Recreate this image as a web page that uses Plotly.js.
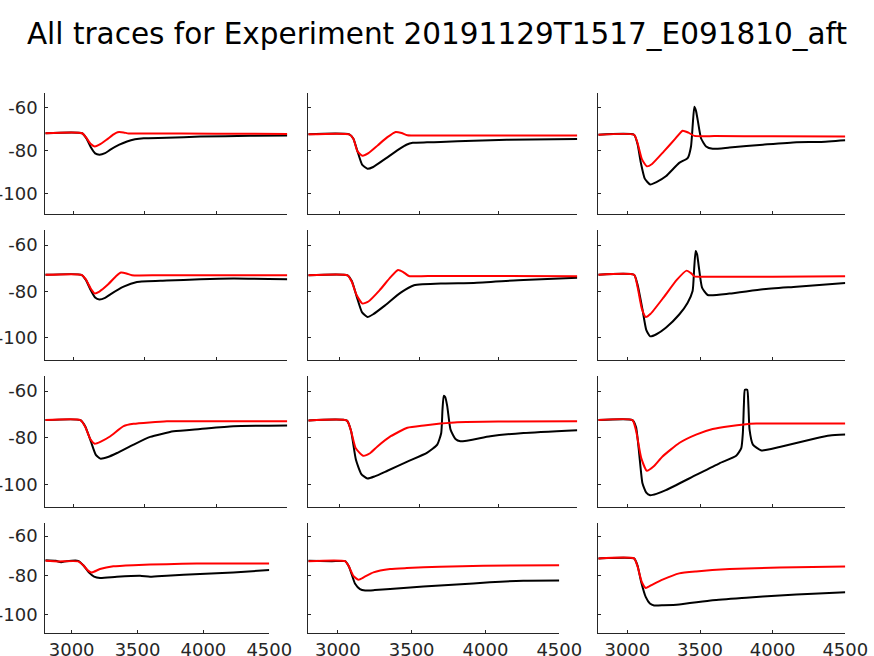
<!DOCTYPE html>
<html>
<head>
<meta charset="utf-8">
<script src="https://cdn.plot.ly/plotly-3.0.1.min.js"></script>
<style>html,body{margin:0;padding:0;background:#fff;}#chart{width:874px;height:656px;}</style>
</head>
<body>
<div id="chart"></div>
<script>
// ---- Tick labels ----
const xTickVals = [3000, 3500, 4000, 4500];
const xTickText = ['3000', '3500', '4000', '4500'];
const yTickVals = [-100, -80, -60];
const yTickText = ['-100', '-80', '-60'];

// ---- Row 1 ----
const p11_kx = [2800, 3059, 3090, 3120, 3150, 3180, 3220, 3257, 3320, 3374, 3430, 3491, 3654, 3888, 4238, 4500];
const p11_ky = [-72.0, -72.0, -74.5, -78.5, -81.3, -81.9, -81.2, -79.6, -77.3, -75.8, -74.8, -74.3, -74.1, -73.5, -73.2, -73.0];
const p11_rx = [2800, 3059, 3090, 3120, 3147, 3180, 3230, 3280, 3308, 3350, 3385, 3500, 4000, 4500];
const p11_ry = [-72.0, -72.0, -74.3, -77.0, -78.1, -77.3, -75.0, -72.5, -71.5, -71.6, -72.1, -72.1, -72.2, -72.3];

const p12_kx = [2800, 3059, 3085, 3111, 3140, 3174, 3210, 3279, 3384, 3420, 3460, 3550, 3636, 3845, 4055, 4500];
const p12_ky = [-72.4, -72.5, -74.5, -80.4, -86.5, -88.4, -87.6, -84.2, -78.9, -77.3, -76.4, -76.2, -76.0, -75.5, -75.0, -74.7];
const p12_rx = [2800, 3059, 3085, 3111, 3143, 3180, 3240, 3300, 3352, 3390, 3426, 3600, 4000, 4500];
const p12_ry = [-72.5, -72.5, -74.5, -80.4, -82.4, -81.2, -77.5, -73.8, -71.4, -71.9, -72.9, -73.0, -73.0, -73.0];

const p13_kx = [2800, 3046, 3070, 3093, 3120, 3157, 3200, 3265, 3357, 3415, 3438, 3450, 3461, 3472, 3484, 3507, 3542, 3587, 3703, 3933, 4164, 4325, 4500];
const p13_ky = [-72.7, -72.7, -77.0, -85.7, -93.0, -95.7, -94.6, -91.9, -85.7, -83.5, -78.1, -68.0, -59.7, -61.5, -65.8, -74.3, -78.1, -79.2, -78.6, -77.3, -76.1, -76.0, -75.2];
const p13_rx = [2800, 3046, 3070, 3100, 3134, 3170, 3250, 3330, 3380, 3420, 3461, 3600, 4000, 4500];
const p13_ry = [-72.7, -72.7, -76.5, -84.0, -87.3, -86.2, -80.5, -74.5, -70.8, -71.7, -73.2, -73.3, -73.4, -73.5];

// ---- Row 2 ----
const p21_kx = [2800, 3054, 3085, 3120, 3150, 3180, 3220, 3257, 3350, 3444, 3654, 3888, 4121, 4500];
const p21_ky = [-72.8, -72.8, -75.0, -79.5, -82.6, -83.4, -82.7, -81.2, -77.9, -75.9, -75.3, -74.7, -74.4, -74.7];
const p21_rx = [2800, 3054, 3085, 3120, 3147, 3180, 3240, 3300, 3332, 3370, 3409, 3600, 4000, 4500];
const p21_ry = [-72.8, -72.8, -74.8, -78.8, -80.8, -80.0, -77.0, -73.2, -71.8, -72.2, -73.0, -73.0, -73.0, -73.0];

const p22_kx = [2800, 3048, 3075, 3105, 3140, 3174, 3210, 3279, 3384, 3468, 3656, 3845, 4160, 4500];
const p22_ky = [-73.0, -73.0, -75.5, -82.0, -89.0, -91.0, -89.8, -86.3, -80.5, -77.3, -76.5, -76.3, -75.0, -74.1];
const p22_rx = [2800, 3048, 3075, 3105, 3143, 3180, 3250, 3320, 3367, 3400, 3436, 3600, 4000, 4500];
const p22_ry = [-73.0, -73.0, -75.8, -81.5, -85.2, -84.3, -79.5, -73.8, -70.7, -71.6, -73.3, -73.3, -73.3, -73.4];

const p23_kx = [2800, 3046, 3070, 3104, 3130, 3157, 3200, 3265, 3357, 3415, 3449, 3460, 3470, 3480, 3491, 3514, 3553, 3703, 3933, 4164, 4500];
const p23_ky = [-72.8, -72.8, -77.0, -87.7, -96.5, -99.3, -98.4, -95.6, -89.9, -84.8, -79.8, -70.0, -62.5, -64.0, -69.0, -78.3, -81.5, -80.9, -79.0, -77.9, -76.3];
const p23_rx = [2800, 3046, 3070, 3100, 3127, 3160, 3250, 3340, 3408, 3440, 3461, 3600, 4000, 4500];
const p23_ry = [-72.8, -72.8, -78.0, -87.5, -91.0, -89.6, -82.5, -75.0, -71.0, -72.2, -73.5, -73.6, -73.6, -73.4];

// ---- Row 3 ----
const p31_kx = [2800, 3047, 3080, 3120, 3155, 3187, 3240, 3304, 3420, 3537, 3701, 3888, 4121, 4500];
const p31_ky = [-72.4, -72.4, -75.0, -81.5, -87.3, -88.9, -88.2, -86.5, -82.9, -79.6, -77.2, -76.2, -75.0, -74.7];
const p31_rx = [2800, 3047, 3080, 3115, 3147, 3190, 3257, 3350, 3420, 3654, 4000, 4500];
const p31_ry = [-72.4, -72.4, -75.2, -80.4, -82.5, -81.6, -79.3, -75.0, -74.0, -72.9, -72.9, -72.9];

const p32_kx = [2800, 3044, 3070, 3101, 3135, 3174, 3220, 3300, 3426, 3552, 3615, 3640, 3648, 3656, 3665, 3678, 3699, 3730, 3761, 3950, 4160, 4500];
const p32_ky = [-72.6, -72.6, -77.0, -89.4, -95.5, -97.4, -96.5, -94.1, -90.2, -86.3, -82.9, -77.9, -68.0, -62.0, -62.5, -66.4, -76.5, -80.5, -81.5, -79.3, -77.9, -76.7];
const p32_rx = [2800, 3044, 3070, 3100, 3147, 3190, 3237, 3321, 3426, 3531, 3636, 3741, 4000, 4500];
const p32_ry = [-72.6, -72.6, -77.0, -84.5, -87.7, -86.6, -83.7, -79.3, -75.7, -74.7, -73.9, -73.3, -73.0, -72.9];

const p33_kx = [2800, 3035, 3060, 3081, 3104, 3130, 3157, 3200, 3265, 3473, 3634, 3749, 3784, 3795, 3802, 3809, 3825, 3833, 3841, 3864, 3922, 4048, 4278, 4394, 4500];
const p33_ky = [-72.4, -72.4, -75.5, -86.5, -99.5, -103.5, -104.6, -104.0, -102.4, -95.9, -90.9, -87.7, -84.4, -77.9, -66.0, -59.4, -59.4, -66.0, -76.5, -82.9, -85.4, -83.9, -80.5, -79.0, -78.6];
const p33_rx = [2800, 3035, 3060, 3095, 3134, 3180, 3242, 3357, 3473, 3587, 3703, 3887, 4200, 4500];
const p33_ry = [-72.4, -72.4, -77.0, -88.5, -94.1, -92.3, -88.0, -82.2, -78.6, -76.2, -75.0, -73.9, -73.9, -73.9];

// ---- Row 4 ----
const p41_kx = [2800, 2880, 2920, 2960, 3050, 3090, 3130, 3170, 3215, 3342, 3519, 3595, 3721, 3974, 4227, 4500];
const p41_ky = [-72.3, -72.6, -73.3, -72.8, -72.6, -75.0, -78.5, -80.6, -81.3, -80.7, -80.2, -80.7, -80.2, -79.3, -78.5, -77.3];
const p41_rx = [2800, 2900, 3050, 3090, 3125, 3152, 3215, 3316, 3468, 3721, 3949, 4500];
const p41_ry = [-72.6, -72.9, -72.9, -75.0, -77.6, -78.5, -76.8, -75.4, -74.8, -74.3, -74.0, -74.0];

const p42_kx = [2800, 2960, 3049, 3075, 3117, 3150, 3185, 3250, 3354, 3579, 3805, 4030, 4256, 4500];
const p42_ky = [-72.6, -72.8, -72.8, -75.5, -84.3, -87.0, -87.7, -87.5, -86.9, -85.7, -84.7, -83.5, -82.7, -82.6];
const p42_rx = [2800, 3049, 3075, 3105, 3139, 3180, 3241, 3354, 3467, 3692, 3985, 4500];
const p42_ry = [-72.8, -72.8, -75.5, -80.3, -82.2, -80.8, -78.5, -76.8, -76.3, -75.6, -75.1, -74.8];

const p43_kx = [2800, 2870, 3046, 3070, 3093, 3127, 3155, 3184, 3250, 3357, 3587, 3818, 4048, 4278, 4500];
const p43_ky = [-71.4, -71.2, -71.4, -75.0, -82.7, -91.1, -94.3, -95.3, -95.2, -94.8, -92.7, -91.4, -90.2, -89.4, -88.6];
const p43_rx = [2800, 3046, 3070, 3100, 3127, 3170, 3242, 3357, 3473, 3703, 4048, 4500];
const p43_ry = [-71.4, -71.4, -75.5, -83.5, -86.4, -84.8, -82.2, -79.0, -78.0, -76.8, -76.0, -75.5];

// ---- Assemble ----
const panelsK = [
  [p11_kx, p11_ky], [p12_kx, p12_ky], [p13_kx, p13_ky],
  [p21_kx, p21_ky], [p22_kx, p22_ky], [p23_kx, p23_ky],
  [p31_kx, p31_ky], [p32_kx, p32_ky], [p33_kx, p33_ky],
  [p41_kx, p41_ky], [p42_kx, p42_ky], [p43_kx, p43_ky]
];
const panelsR = [
  [p11_rx, p11_ry], [p12_rx, p12_ry], [p13_rx, p13_ry],
  [p21_rx, p21_ry], [p22_rx, p22_ry], [p23_rx, p23_ry],
  [p31_rx, p31_ry], [p32_rx, p32_ry], [p33_rx, p33_ry],
  [p41_rx, p41_ry], [p42_rx, p42_ry], [p43_rx, p43_ry]
];

const W = 874, H = 656;
const colPx = [[45.3, 287.3], [308.3, 577.3], [598.3, 845.3]];
const colPxLast = [[45.3, 269.3], [308.3, 559.3], [598.3, 845.3]];
const rowPx = [[93.3, 214.3], [230, 360], [376, 506.7], [523.3, 633.3]];

const axColor = '#262626';
const tickFont = {family: 'DejaVu Sans', size: 18, color: axColor};

const traces = [];
const layout = {
  width: W, height: H,
  margin: {l: 0, r: 0, t: 0, b: 0},
  paper_bgcolor: '#ffffff', plot_bgcolor: '#ffffff',
  showlegend: false,
  title: {
    text: 'All traces for Experiment 20191129T1517_E091810_aft',
    font: {family: 'DejaVu Sans', size: 29.5, color: '#000000'},
    x: 0.5, xanchor: 'center', xref: 'paper',
    y: 1 - 34 / H, yanchor: 'middle', yref: 'container'
  }
};

for (let i = 0; i < 12; i++) {
  const r = Math.floor(i / 3), c = i % 3;
  const n = i + 1;
  const xa = n === 1 ? 'x' : 'x' + n;
  const ya = n === 1 ? 'y' : 'y' + n;
  const lineShape = {shape: 'spline', smoothing: 0.5, width: 2};
  traces.push({x: panelsK[i][0], y: panelsK[i][1], xaxis: xa, yaxis: ya, type: 'scatter', mode: 'lines',
    line: Object.assign({color: '#000000'}, lineShape), hoverinfo: 'skip'});
  traces.push({x: panelsR[i][0], y: panelsR[i][1], xaxis: xa, yaxis: ya, type: 'scatter', mode: 'lines',
    line: Object.assign({color: '#ff0000'}, lineShape), hoverinfo: 'skip'});
  const cp = (r === 3 ? colPxLast : colPx)[c];
  const rp = rowPx[r];
  layout['xaxis' + (n === 1 ? '' : n)] = {
    domain: [cp[0] / W, cp[1] / W], anchor: ya, range: [2800, 4500],
    showline: true, linecolor: axColor, linewidth: 1, mirror: false,
    ticks: 'inside', ticklen: 3, tickwidth: 1, tickcolor: axColor,
    tickmode: 'array', tickvals: xTickVals, ticktext: xTickText,
    showticklabels: r === 3, tickfont: tickFont,
    showgrid: false, zeroline: false, automargin: false
  };
  layout['yaxis' + (n === 1 ? '' : n)] = {
    domain: [1 - rp[1] / H, 1 - rp[0] / H], anchor: xa, range: [-109.5, -53.5],
    showline: true, linecolor: axColor, linewidth: 1, mirror: false,
    ticks: 'inside', ticklen: 3, tickwidth: 1, tickcolor: axColor,
    tickmode: 'array', tickvals: yTickVals, ticktext: yTickText,
    showticklabels: c === 0, tickfont: tickFont, ticklabelstandoff: 3,
    showgrid: false, zeroline: false, automargin: false
  };
}

Plotly.newPlot('chart', traces, layout, {staticPlot: true, displayModeBar: false});
</script>
</body>
</html>
